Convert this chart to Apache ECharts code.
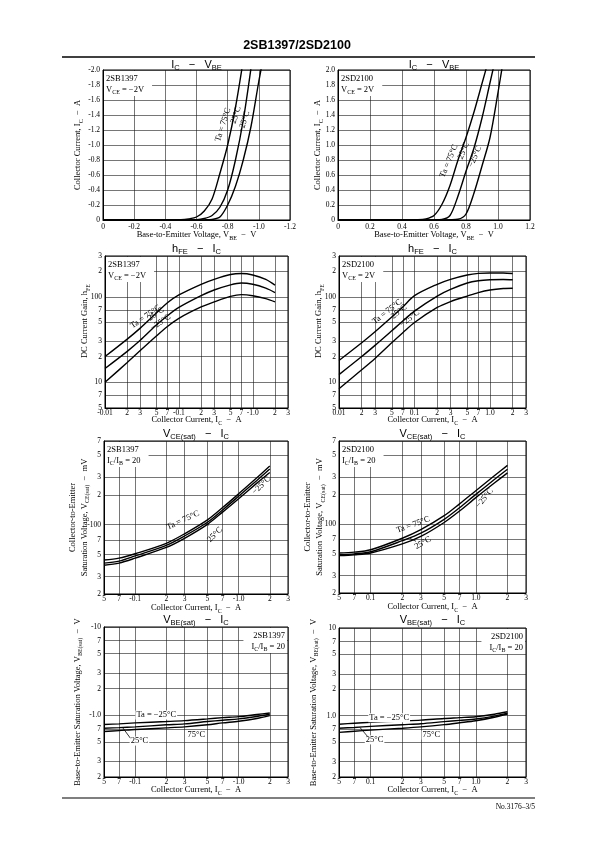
<!DOCTYPE html>
<html><head><meta charset="utf-8">
<script src="https://cdn.jsdelivr.net/npm/echarts@6/dist/echarts.min.js"></script>
<style>html,body{margin:0;padding:0;background:#fff}#c{width:595px;height:842px}</style>
</head><body><div id="c"></div><script>
// ---------------- DATA ----------------
// Chart 1: 2SB1397 IC - VBE (V, A)
const vbe1 = [0,-0.1,-0.2,-0.3,-0.4,-0.5,-0.55,-0.6,-0.65,-0.7,-0.75,-0.8,-0.85,-0.9,-0.95,-1.0,-1.05];
const ic1_75 = [0,0,0,0,0,-0.003,-0.015,-0.04,-0.12,-0.28,-0.62,-1.0,-1.5,-2.13,null,null,null];
const ic1_25 = [0,0,0,0,0,-0.001,-0.002,-0.004,-0.02,-0.06,-0.17,-0.4,-0.8,-1.33,-2.03,null,null];
const ic1_m25 = [0,0,0,0,0,0,0,-0.001,-0.002,-0.008,-0.04,-0.2,-0.45,-0.8,-1.25,-1.85,-2.4];
// Chart 2: 2SD2100 IC - VBE
const vbe2 = [0,0.1,0.2,0.3,0.4,0.5,0.55,0.6,0.65,0.7,0.75,0.8,0.85,0.9,0.95,1.0,1.05];
const ic2_75 = [0,0,0,0,0,0.003,0.015,0.06,0.21,0.46,0.8,1.1,1.44,1.82,2.2,null,null];
const ic2_25 = [0,0,0,0,0,0,0.001,0.002,0.008,0.06,0.32,0.65,0.96,1.36,1.83,2.3,null];
const ic2_m25 = [0,0,0,0,0,0,0,0,0.001,0.003,0.01,0.08,0.36,0.72,1.1,1.7,2.35];
// Charts 3/4: hFE - IC (|IC| in A)
const icHfe = [0.01,0.02,0.03,0.05,0.07,0.1,0.2,0.3,0.5,0.7,1.0,1.5,2.0];
const hfe1_75 = [20,32,43,65,85,105,140,160,182,187,180,160,137];
const hfe1_25 = [14.5,23,31,47,60,75,103,120,138,145,140,126,112];
const hfe1_m25 = [10,17,23.5,35,45,56,76,87,101,106,103,95,87];
const hfe2_75 = [18,29,39,58,76,103,140,160,180,188,190,190,187];
const hfe2_25 = [12.3,20,27,40,52,68,102,122,145,154,158,159,158];
const hfe2_m25 = [8.4,14,19,29,38,50,75,88,102,112,120,125,126];
// Charts 5-8: saturation voltages - IC
const icSat = [0.05,0.07,0.1,0.2,0.3,0.5,0.7,1.0,1.5,2.0];
const vce1_75 = [44,46,51,65,81,112,149,205,298,392];
const vce1_25 = [41,43,48.5,62,77,106,141,194,280,365];
const vce1_m25 = [39,41,46,59,73,101,134,183,263,337];
const vce2_75 = [51,52,55,72,88,122,161,219,310,396];
const vce2_25 = [49,50,52.5,68,81,112,147,201,284,362];
const vce2_m25 = [48,49,51,63,75,104,136,186,262,332];
const vbe1_m25 = [0.785,0.80,0.82,0.85,0.87,0.91,0.94,0.966,1.02,1.06];
const vbe1_25 = [0.714,0.725,0.74,0.78,0.80,0.85,0.88,0.91,0.97,1.026];
const vbe1_75 = [0.654,0.67,0.69,0.72,0.74,0.78,0.82,0.856,0.92,0.99];
const vbe2_m25 = [0.80,0.82,0.84,0.87,0.89,0.93,0.95,0.974,1.04,1.11];
const vbe2_25 = [0.72,0.735,0.755,0.79,0.81,0.855,0.885,0.916,0.99,1.07];
const vbe2_75 = [0.645,0.665,0.685,0.72,0.745,0.79,0.83,0.877,0.96,1.045];
// Tick values
const hfeXTicks = [0.01,0.02,0.03,0.05,0.07,0.1,0.2,0.3,0.5,0.7,1,2,3];
const hfeYTicks = [5,7,10,20,30,50,70,100,200,300];
const satXTicks = [0.05,0.07,0.1,0.2,0.3,0.5,0.7,1,2,3];
const vceYTicks = [20,30,50,70,100,200,300,500,700];
const vbeYTicks = [0.2,0.3,0.5,0.7,1,2,3,5,7,10];

// ---------------- LAYOUT / STYLE ----------------
const SERIF = '"Liberation Serif", "DejaVu Serif", serif';
const SANS = '"Liberation Sans", Arial, sans-serif';
const grids = [
  {left:103, top:70, width:187, height:150},
  {left:338, top:70, width:192, height:150},
  {left:105, top:256, width:183, height:152},
  {left:339, top:256, width:187, height:152},
  {left:104, top:441, width:184, height:153},
  {left:339, top:441, width:187, height:152},
  {left:104, top:627, width:184, height:150},
  {left:339, top:628, width:187, height:149}
];
const nameRich = {
  n:{fontSize:8.5, fontFamily:SERIF, color:'#000', lineHeight:12},
  s:{fontSize:6, fontFamily:SERIF, color:'#000', lineHeight:12, verticalAlign:'bottom'}
};
const lineCol = '#1a1a1a';
function common(gi, namePad){
  return {
    gridIndex:gi,
    axisLine:{show:true, onZero:false, lineStyle:{color:'#000', width:1}},
    splitLine:{show:true, lineStyle:{color:lineCol, width:0.6}},
    minorTick:{show:false}, minorSplitLine:{show:false},
    nameLocation:'middle', nameMoveOverlap:false,
    nameTextStyle:{rich:nameRich, padding:namePad || 0}
  };
}
const labelBase = {color:'#000', fontSize:7.5, fontFamily:SERIF};
function linAxis(gi, min, max, interval, inverse, fmt, name, gap){
  return Object.assign(common(gi), {
    type:'value', min, max, interval, inverse,
    axisTick:{show:false},
    axisLabel:Object.assign({margin:3, formatter:fmt, showMinLabel:true, showMaxLabel:true}, labelBase),
    name, nameGap:gap
  });
}
function logFmt(neg){
  return function(v){
    const e = Math.floor(Math.log10(v) + 1e-9);
    const m = Math.round(v / Math.pow(10, e));
    if (m !== 1) return String(m);
    const s = e < 0 ? Math.pow(10, e).toFixed(-e) : (e === 0 ? '1.0' : String(Math.round(Math.pow(10, e))));
    return (neg ? '-' : '') + s;
  };
}
function logAxis(gi, min, max, ticks, neg, name, gap, margin, namePad){
  return Object.assign(common(gi, namePad), {
    type:'log', logBase:10, min, max,
    axisTick:{show:false, customValues:ticks},
    axisLabel:Object.assign({margin:margin, customValues:ticks, formatter:logFmt(neg), showMinLabel:true, showMaxLabel:true}, labelBase),
    name, nameGap:gap
  });
}
const f1 = v => v === 0 ? '0' : '-' + Math.abs(v).toFixed(1);
const f2 = v => v === 0 ? '0' : v.toFixed(1);

const nmVbe = '{n|Base-to-Emitter Voltage, V}{s|BE}{n|  −  V}';
const nmIc = '{n|Collector Current, I}{s|C}{n|  −  A}';
const nmHfe = '{n|DC Current Gain, h}{s|FE}';
const nmVce = '{n|Collector-to-Emitter}\n{n|Saturation Voltage, V}{s|CE(sat)}{n|  −  mV}';
const nmVbes = '{n|Base-to-Emitter Saturation Voltage, V}{s|BE(sat)}{n|  −  V}';

const xAxes = [
  linAxis(0, -1.2, 0, 0.2, true, f1, nmVbe, 9),
  linAxis(1, 0, 1.2, 0.2, false, f2, nmVbe, 9),
  logAxis(2, 0.01, 3, hfeXTicks, true, nmIc, 6, 1),
  logAxis(3, 0.01, 3, hfeXTicks, false, nmIc, 6, 1),
  logAxis(4, 0.05, 3, satXTicks, true, nmIc, 8, 1),
  logAxis(5, 0.05, 3, satXTicks, false, nmIc, 8, 1),
  logAxis(6, 0.05, 3, satXTicks, true, nmIc, 7, 1),
  logAxis(7, 0.05, 3, satXTicks, false, nmIc, 7, 1)
];
const yAxes = [
  linAxis(0, -2, 0, 0.2, true, f1, nmIc, 19),
  linAxis(1, 0, 2, 0.2, false, f2, nmIc, 14),
  logAxis(2, 5, 300, hfeYTicks, false, nmHfe, 14, 3, [0, 0, 0, 22]),
  logAxis(3, 5, 300, hfeYTicks, false, nmHfe, 14, 3, [0, 0, 0, 22]),
  logAxis(4, 20, 700, vceYTicks, true, nmVce, 13.5, 3),
  logAxis(5, 20, 700, vceYTicks, false, nmVce, 13, 3),
  logAxis(6, 0.2, 10, vbeYTicks, true, nmVbes, 20.5, 3),
  logAxis(7, 0.2, 10, vbeYTicks, false, nmVbes, 19.5, 3)
];

const curveSets = [
  [vbe1, [ic1_75, ic1_25, ic1_m25]],
  [vbe2, [ic2_75, ic2_25, ic2_m25]],
  [icHfe, [hfe1_75, hfe1_25, hfe1_m25]],
  [icHfe, [hfe2_75, hfe2_25, hfe2_m25]],
  [icSat, [vce1_75, vce1_25, vce1_m25]],
  [icSat, [vce2_75, vce2_25, vce2_m25]],
  [icSat, [vbe1_m25, vbe1_25, vbe1_75]],
  [icSat, [vbe2_m25, vbe2_25, vbe2_75]]
];
const series = [];
curveSets.forEach((cs, gi) => {
  cs[1].forEach(ys => {
    const data = [];
    cs[0].forEach((x, i) => { if (ys[i] !== null) data.push([x, ys[i]]); });
    series.push({
      type:'line', xAxisIndex:gi, yAxisIndex:gi, data,
      showSymbol:false, smooth:0.3,
      lineStyle:{color:'#000', width:1.4}, silent:true, z:3, clip:true
    });
  });
});

const chart = echarts.init(document.getElementById('c'), null, {renderer:'canvas', width:595, height:842});
chart.setOption({
  animation:false,
  backgroundColor:'#fff',
  grid: grids.map(g => Object.assign({show:true, borderColor:'#000', borderWidth:1, backgroundColor:'transparent', containLabel:false}, g)),
  xAxis: xAxes, yAxis: yAxes, series
});

// ---------------- TEXT OVERLAYS ----------------
const RN = {fontSize:8.5, fontFamily:SERIF, color:'#000', lineHeight:11};
const RS = {fontSize:6, fontFamily:SERIF, color:'#000', lineHeight:11, verticalAlign:'bottom'};
const TM = {fontSize:11, fontFamily:SANS, color:'#000', lineHeight:14};
const TS = {fontSize:7.5, fontFamily:SANS, color:'#000', lineHeight:14, verticalAlign:'bottom'};
function txt(x, y, text, align, vAlign, rich, extra){
  return {type:'text', x, y, z:50, silent:true, style:Object.assign({
    text, rich, align, textAlign:align, verticalAlign:vAlign, textVerticalAlign:vAlign, fill:'#000'
  }, extra || {})};
}
const gr = [];
gr.push(txt(297, 46, '2SB1397/2SD2100', 'center', 'middle', null, {font:'bold 12.5px "Liberation Sans", Arial, sans-serif'}));
gr.push({type:'line', shape:{x1:62, y1:57, x2:535, y2:57}, style:{stroke:'#000', lineWidth:1.5}, silent:true});
gr.push({type:'line', shape:{x1:62, y1:798, x2:535, y2:798}, style:{stroke:'#000', lineWidth:1.2}, silent:true});
gr.push(txt(535, 807, 'No.3176–3/5', 'right', 'middle', null, {font:'7.5px "Liberation Serif", serif'}));

const titles = [
  [0, 65, '{m|I}{s|C}{m|   −   V}{s|BE}'],
  [1, 65, '{m|I}{s|C}{m|   −   V}{s|BE}'],
  [2, 249, '{m|h}{s|FE}{m|   −   I}{s|C}'],
  [3, 249, '{m|h}{s|FE}{m|   −   I}{s|C}'],
  [4, 434, '{m|V}{s|CE(sat)}{m|   −   I}{s|C}'],
  [5, 434, '{m|V}{s|CE(sat)}{m|   −   I}{s|C}'],
  [6, 620, '{m|V}{s|BE(sat)}{m|   −   I}{s|C}'],
  [7, 620, '{m|V}{s|BE(sat)}{m|   −   I}{s|C}']
];
titles.forEach(t => {
  const g = grids[t[0]];
  gr.push(txt(g.left + g.width / 2, t[1], t[2], 'center', 'middle', {m:TM, s:TS}));
});

const boxes = [
  [0, 'left', '{n|2SB1397}\n{n|V}{s|CE}{n| = −2V}'],
  [1, 'left', '{n|2SD2100}\n{n|V}{s|CE}{n| = 2V}'],
  [2, 'left', '{n|2SB1397}\n{n|V}{s|CE}{n| = −2V}'],
  [3, 'left', '{n|2SD2100}\n{n|V}{s|CE}{n| = 2V}'],
  [4, 'left', '{n|2SB1397}\n{n|I}{s|C}{n|/I}{s|B}{n| = 20}'],
  [5, 'left', '{n|2SD2100}\n{n|I}{s|C}{n|/I}{s|B}{n| = 20}'],
  [6, 'right', '{n|2SB1397}\n{n|I}{s|C}{n|/I}{s|B}{n| = 20}'],
  [7, 'right', '{n|2SD2100}\n{n|I}{s|C}{n|/I}{s|B}{n| = 20}']
];
boxes.forEach(b => {
  const g = grids[b[0]];
  const x = b[1] === 'left' ? g.left + 1 : g.left + g.width - 1;
  gr.push(txt(x, g.top + 1, b[2], b[1], 'top', {n:RN, s:RS},
    {backgroundColor:'#fff', padding: b[1] === 'left' ? [2, 8, 1, 2] : [2, 2, 1, 8]}));
});

// Curve labels, anchored in data coordinates: [chart, text, x, y, rotation deg]
const curveLabels = [
  [0, 'Ta = 75°C', -0.77, -1.27, 72],
  [0, '25°C', -0.853, -1.40, 72],
  [0, '−25°C', -0.905, -1.31, 72],
  [1, 'Ta = 75°C', 0.693, 0.787, 67],
  [1, '25°C', 0.785, 0.924, 67],
  [1, '−25°C', 0.856, 0.844, 67],
  [2, 'Ta = 75°C', 0.0355, 58.4, 35],
  [2, '25°C', 0.0489, 62.8, 35],
  [2, '−25°C', 0.0566, 50.2, 35],
  [3, 'Ta = 75°C', 0.0433, 66.8, 38],
  [3, '25°C', 0.0624, 66.8, 38],
  [3, '−25°C', 0.0864, 55.9, 38],
  [4, 'Ta = 75°C', 0.29, 111, 25],
  [4, '25°C', 0.59, 79.5, 45],
  [4, '−25°C', 1.66, 250, 45],
  [5, 'Ta = 75°C', 0.253, 98.7, 20],
  [5, '25°C', 0.314, 64.5, 30],
  [5, '−25°C', 1.21, 184, 50],
  [6, 'Ta = −25°C', 0.16, 1.007, 0],
  [6, '25°C', 0.11, 0.51, 0],
  [6, '75°C', 0.39, 0.597, 0],
  [7, 'Ta = −25°C', 0.15, 0.95, 0],
  [7, '25°C', 0.109, 0.53, 0],
  [7, '75°C', 0.378, 0.6, 0]
];
curveLabels.forEach(l => {
  const p = chart.convertToPixel({seriesIndex: l[0] * 3}, [l[2], l[3]]);
  if (!p) return;
  gr.push({type:'text', x:p[0], y:p[1], rotation:l[4] * Math.PI / 180, z:40, silent:true,
    style:{text:l[1], font:'8.5px "Liberation Serif", serif', fill:'#000',
      align:'center', textAlign:'center', verticalAlign:'middle', textVerticalAlign:'middle',
      backgroundColor: l[4] === 0 ? '#fff' : null, padding:[0,1]}});
});
// Leader lines from "25°C" labels to their curves: [chart, x1, y1, x2, y2] (data coords)
const leaders = [
  [4, 0.518, 98.7, 0.476, 104],
  [5, 0.27, 67, 0.235, 72],
  [6, 0.09, 0.55, 0.076, 0.72],
  [7, 0.094, 0.575, 0.079, 0.735]
];
leaders.forEach(l => {
  const a = chart.convertToPixel({seriesIndex: l[0] * 3}, [l[1], l[2]]);
  const b = chart.convertToPixel({seriesIndex: l[0] * 3}, [l[3], l[4]]);
  if (!a || !b) return;
  gr.push({type:'line', shape:{x1:a[0], y1:a[1], x2:b[0], y2:b[1]}, style:{stroke:'#000', lineWidth:0.8}, silent:true, z:45});
});
chart.setOption({graphic: gr});
</script></body></html>
